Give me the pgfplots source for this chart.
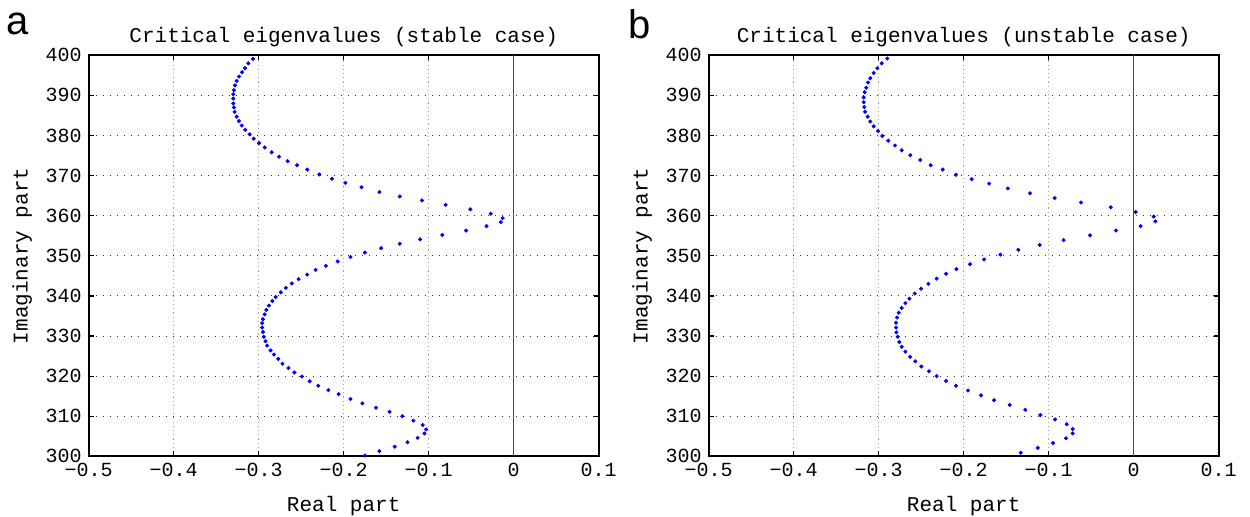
\documentclass[border=0pt]{standalone}
\usepackage{pgfplots}
\pgfplotsset{compat=1.18}
\usepackage{fontspec}
\setmainfont{Liberation Mono}
\newfontfamily\sansf{Liberation Sans}
\definecolor{mblue}{RGB}{0,0,255}
\definecolor{mred}{RGB}{255,0,0}

\pgfplotstableread{
x y
-0.3067 399.1
-0.3122 398.0
-0.3161 396.8
-0.3196 395.8
-0.3232 394.7
-0.3259 393.6
-0.3279 392.5
-0.3291 391.3
-0.3299 390.3
-0.3299 389.2
-0.3299 388.0
-0.3291 387.0
-0.3283 385.9
-0.3259 384.7
-0.3232 383.6
-0.3200 382.5
-0.3158 381.4
-0.3106 380.3
-0.3059 379.2
-0.2996 378.1
-0.2929 377.0
-0.2847 375.8
-0.2761 374.7
-0.2659 373.6
-0.2549 372.6
-0.2428 371.5
-0.2287 370.3
-0.2138 369.2
-0.198 368.2
-0.179 367.1
-0.158 365.9
-0.134 364.8
-0.108 363.8
-0.080 362.7
-0.051 361.6
-0.027 360.5
-0.013 359.4
-0.015 358.4
-0.032 357.4
-0.056 356.3
-0.084 355.2
-0.110 354.1
-0.134 353.0
-0.156 351.9
-0.175 350.8
-0.192 349.7
-0.207 348.6
-0.221 347.5
-0.233 346.5
-0.243 345.3
-0.253 344.2
-0.261 343.1
-0.268 342.0
-0.274 340.9
-0.280 339.7
-0.284 338.7
-0.288 337.6
-0.291 336.5
-0.293 335.4
-0.295 334.2
-0.296 333.2
-0.296 332.1
-0.295 331.0
-0.294 329.8
-0.292 328.7
-0.290 327.6
-0.286 326.4
-0.282 325.4
-0.277 324.3
-0.272 323.1
-0.265 322.0
-0.258 320.9
-0.249 319.9
-0.240 318.7
-0.230 317.6
-0.218 316.5
-0.206 315.5
-0.192 314.3
-0.178 313.2
-0.162 312.1
-0.146 311.1
-0.131 310.0
-0.118 308.9
-0.107 307.8
-0.103 306.7
-0.105 305.7
-0.113 304.6
-0.125 303.5
-0.140 302.4
-0.158 301.3
-0.175 300.2
}\stable

\pgfplotstableread{
x y
-0.2899 399.2
-0.2965 398.0
-0.3016 396.8
-0.3059 395.6
-0.3099 394.3
-0.3126 393.2
-0.3146 391.9
-0.3165 390.8
-0.3176 389.5
-0.3176 388.3
-0.3169 387.1
-0.3161 385.9
-0.3129 384.7
-0.3099 383.5
-0.3059 382.3
-0.3008 381.1
-0.2958 379.9
-0.2887 378.7
-0.2808 377.5
-0.2729 376.3
-0.2628 375.1
-0.2511 373.9
-0.2388 372.6
-0.2247 371.5
-0.2091 370.2
-0.1906 369.1
-0.170 368.0
-0.148 366.8
-0.122 365.6
-0.093 364.4
-0.062 363.3
-0.027 362.1
0.0024 360.9
0.0235 359.8
0.0255 358.6
0.0082 357.4
-0.0208 356.3
-0.0514 355.1
-0.0824 353.9
-0.1106 352.7
-0.1357 351.5
-0.1569 350.3
-0.1761 349.1
-0.1925 347.9
-0.2086 346.7
-0.2208 345.5
-0.2318 344.3
-0.2416 343.0
-0.2502 341.8
-0.2576 340.6
-0.2639 339.3
-0.2686 338.2
-0.2729 337.0
-0.2765 335.8
-0.2784 334.6
-0.2796 333.3
-0.2796 332.1
-0.2792 330.9
-0.2776 329.8
-0.2757 328.5
-0.2729 327.3
-0.2686 326.1
-0.2631 324.8
-0.2569 323.7
-0.2498 322.4
-0.2408 321.2
-0.2318 320.0
-0.2208 318.8
-0.2090 317.6
-0.1949 316.4
-0.1796 315.2
-0.1643 314.0
-0.1459 312.8
-0.1275 311.6
-0.1098 310.3
-0.0925 309.2
-0.0788 308.0
-0.0718 306.8
-0.0718 305.7
-0.0796 304.5
-0.0949 303.3
-0.1129 302.1
-0.1329 300.9
}\unstable

\pgfplotsset{
  eigaxis/.style={
    scale only axis,
    width=255pt, height=200.5pt,
    anchor=south west,
    xmin=-0.5, xmax=0.1, ymin=300, ymax=400,
    xtick={-0.5,-0.4,-0.3,-0.2,-0.1,0,0.1},
    xticklabels={−0.5,−0.4,−0.3,−0.2,−0.1,0,0.1},
    ytick={300,310,320,330,340,350,360,370,380,390,400},
    yticklabels={300,310,320,330,340,350,360,370,380,390,400},
    tick align=inside,
    major tick length=2.5pt,
    tick style={black, line width=0.6pt},
    axis line style={black, line width=0.9pt},
    xmajorgrids=false,
    ymajorgrids=true,
    extra x ticks={-0.4,-0.3,-0.2,-0.1},
    extra x tick labels={},
    extra x tick style={xmajorgrids=true, ymajorgrids=false,
      major x grid style={gray!70, line width=0.5pt, dash pattern=on 0.6pt off 1.5pt}},
    y grid style={black!80, line width=0.5pt, dash pattern=on 0.5pt off 3pt},
    ticklabel style={font=\fontsize{10}{12}\selectfont},
    title style={font=\fontsize{10.5}{12}\selectfont, yshift=-5.5pt},
    label style={font=\fontsize{10.5}{12}\selectfont},
    xlabel={Real part},
    ylabel={Imaginary part},
    xlabel style={yshift=-3pt},
    clip=false,
  }
}

\begin{document}
\begin{tikzpicture}
\useasboundingbox (0,0) rectangle (625pt,258pt);
\node[font=\sansf\fontsize{20}{22}\selectfont, anchor=center] at (9pt,246pt) {a};
\node[font=\sansf\fontsize{20}{22}\selectfont, anchor=center] at (320pt,246pt) {b};
\begin{axis}[eigaxis, at={(44.35pt,29.85pt)}, title={Critical eigenvalues (stable case)}]
\addplot[only marks, mark=*, mark size=0.8pt, mblue, mark options={draw=mblue, fill=mblue}] table[x=x,y=y] {\stable};
\addplot[mred, line width=0.8pt, mark=none, sharp plot] coordinates {(0,300) (0,400)};
\end{axis}
\begin{axis}[eigaxis, at={(354.35pt,29.85pt)}, title={Critical eigenvalues (unstable case)}]
\addplot[only marks, mark=*, mark size=0.8pt, mblue, mark options={draw=mblue, fill=mblue}] table[x=x,y=y] {\unstable};
\addplot[mred, line width=0.8pt, mark=none, sharp plot] coordinates {(0,300) (0,400)};
\end{axis}
\end{tikzpicture}
\end{document}
